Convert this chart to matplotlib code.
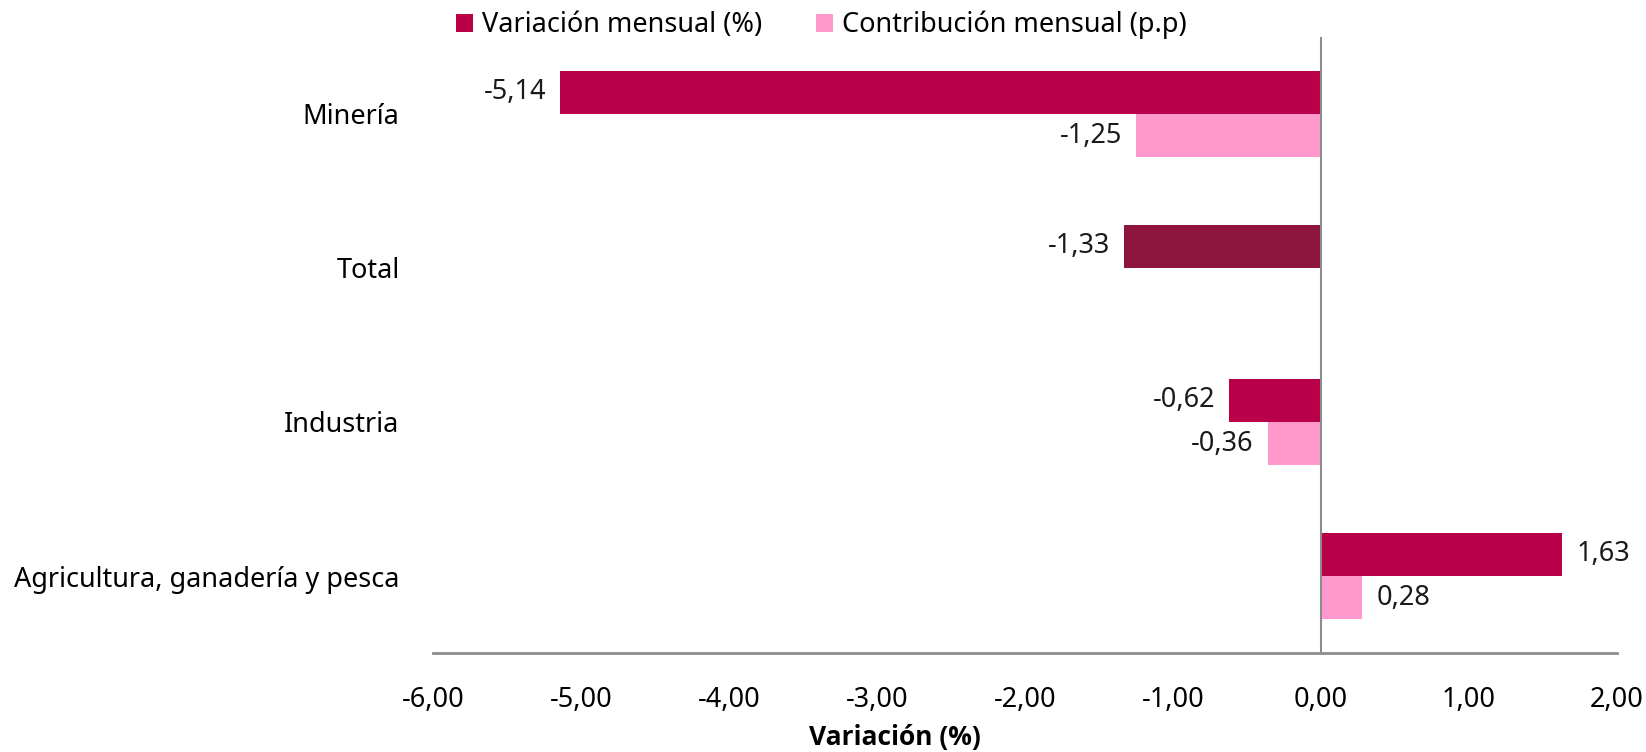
import matplotlib.pyplot as plt
import numpy as np

plt.rcParams['font.family'] = ['Noto Sans', 'DejaVu Sans']

# Data
categories = ['Minería', 'Total', 'Industria', 'Agricultura, ganadería y pesca']
variacion = [-5.14, -1.33, -0.62, 1.63]
contribucion = [-1.25, np.nan, -0.36, 0.28]
series_names = ['Variación mensual (%)', 'Contribución mensual (p.p)']
xticks = [-6, -5, -4, -3, -2, -1, 0, 1, 2]

c_var = '#BA0049'
c_con = '#FF99CC'
c_total = '#8E153E'
fs = 19.5

fig = plt.figure(figsize=(16.46, 7.52), dpi=100)
ax = fig.add_axes([433 / 1646, 1 - 653 / 752, 1184 / 1646, 616 / 752])

y = np.arange(len(categories))
h = 0.28
var_colors = [c_total if c == 'Total' else c_var for c in categories]
b1 = ax.barh(y - h / 2, variacion, height=h, color=var_colors, label=series_names[0], zorder=2)
b2 = ax.barh(y + h / 2, contribucion, height=h, color=c_con, label=series_names[1], zorder=2)

fmt = lambda v: f'{v:.2f}'.replace('.', ',')
for bars, vals in ((b1, variacion), (b2, contribucion)):
    labels = ['' if np.isnan(v) else fmt(v) for v in vals]
    ax.bar_label(bars, labels=labels, padding=10, fontsize=fs, color='#1a1a1a')

ax.set_xlim(-6, 2)
ax.set_ylim(len(categories) - 0.5, -0.5)
ax.set_yticks(y)
ax.set_yticklabels(categories, fontsize=fs)
ax.set_xticks(xticks)
ax.set_xticklabels([fmt(t) for t in xticks], fontsize=fs)
ax.tick_params(axis='both', length=0)
ax.tick_params(axis='y', pad=24)
ax.tick_params(axis='x', pad=24)

ax.axvline(0, color='#8c8c8c', linewidth=1.5, zorder=3)
for s in ['left', 'right', 'top']:
    ax.spines[s].set_visible(False)
ax.spines['bottom'].set_color('#8c8c8c')
ax.spines['bottom'].set_linewidth(2)

ax.set_xlabel('Variación (%)', fontsize=fs - 0.5, fontweight='bold',
              family=['Open Sans', 'DejaVu Sans'])
ax.xaxis.set_label_coords(0.39, -0.116)

fig.legend(handles=[b1, b2], labels=series_names, loc='center left',
           bbox_to_anchor=(445 / 1646, 1 - 25 / 752), ncol=2, frameon=False,
           fontsize=fs, handlelength=0.65, handleheight=0.65, handletextpad=0.3,
           columnspacing=2.0, borderaxespad=0)

fig.savefig('out.png', dpi=100)
